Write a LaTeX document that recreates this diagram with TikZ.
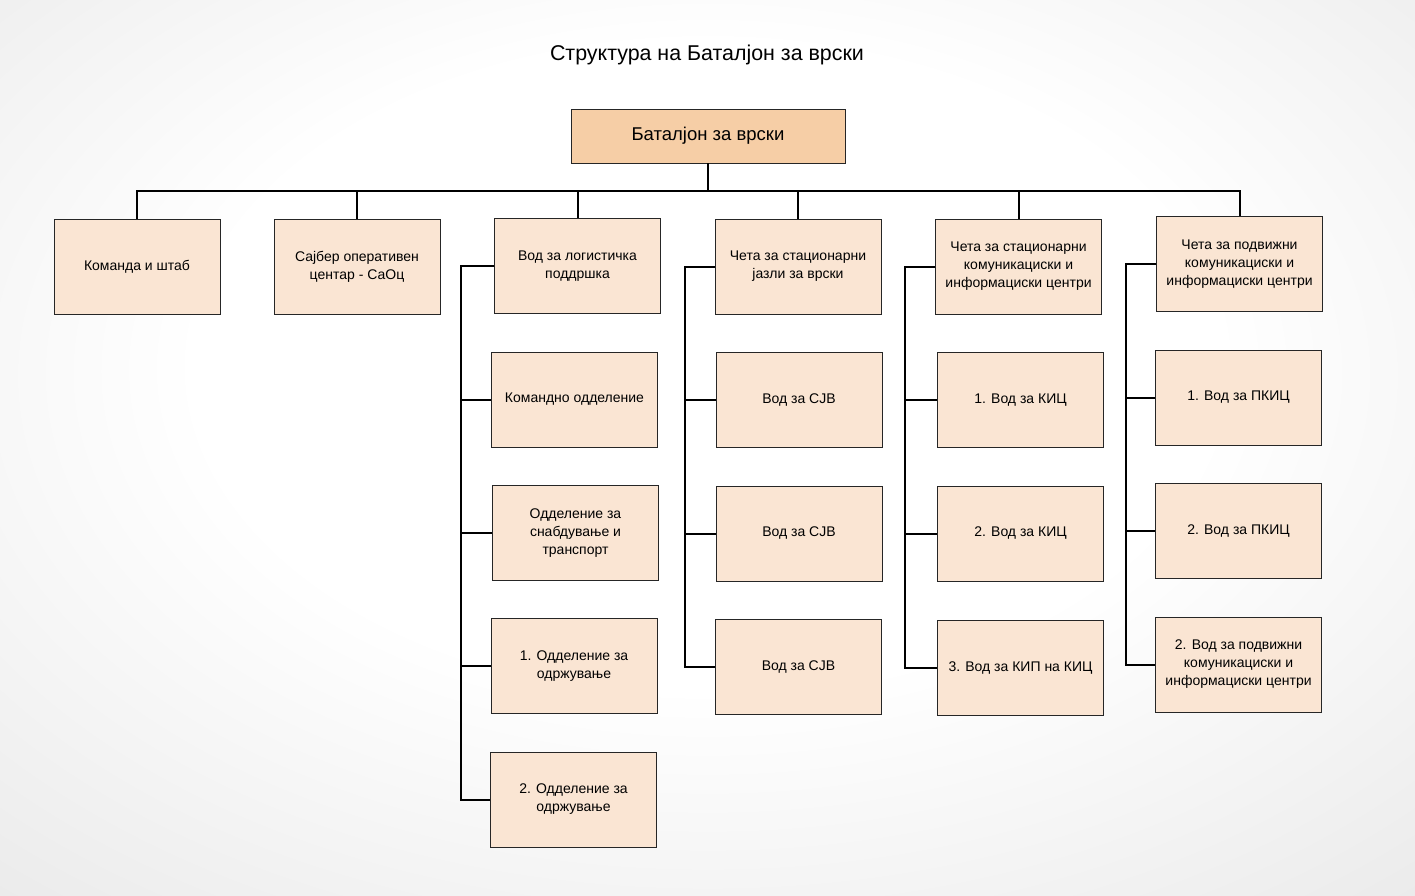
\documentclass[tikz,border=0pt]{standalone}
\usepackage{fontspec}
\setmainfont{Liberation Sans}
\usetikzlibrary{calc}

\definecolor{rootfill}{RGB}{246,206,166}
\definecolor{unitfill}{RGB}{250,229,211}
\pgfdeclareradialshading{pagebg}{\pgfpoint{0bp}{6bp}}{color(0bp)=(white);color(18bp)=(white);color(58bp)=(black!16);color(75bp)=(black!20)}
\tikzset{
  unit/.style={draw=black!85,fill=unitfill,minimum width=166,minimum height=95,inner sep=0,align=center,font=\fontsize{14}{18}\selectfont},
  root/.style={unit,fill=rootfill,minimum width=274,minimum height=54,font=\fontsize{18.5}{22}\selectfont},
  conn/.style={line width=2pt,black},
}

\begin{document}
\begin{tikzpicture}[x=1pt,y=-1pt]
\useasboundingbox (0,0) rectangle (1415,896);
\shade[shading=pagebg] (0,0) rectangle (1415,896);
\node[font=\fontsize{21.4}{25}\selectfont] (title) at (707,55) {Структура на Баталјон за врски};
\node[root] (bat) at (708,136) {Баталјон за врски};
% first level
\node[unit] (kom) at (137,266.5) {Команда и штаб};
\node[unit] (saoc) at (357,266.5) {Сајбер оперативен\\центар - СаОц};
\node[unit] (vlog) at (577.5,266) {Вод за логистичка\\поддршка};
\node[unit] (cjaz) at (798,266.5) {Чета за стационарни\\јазли за врски};
\node[unit] (cskic) at (1018.5,266.5) {Чета за стационарни\\комуникациски и\\информациски центри};
\node[unit] (cpkic) at (1239.5,264) {Чета за подвижни\\комуникациски и\\информациски центри};
% logistics platoon
\node[unit] (odkom) at (574.5,399.5) {Командно одделение};
\node[unit] (odsnab) at (575.5,533) {Одделение за\\снабдување и\\транспорт};
\node[unit] (odr1) at (574,666) {1. Одделение за\\одржување};
\node[unit] (odr2) at (573.5,799.5) {2. Одделение за\\одржување};
% stationary nodes company
\node[unit] (sjv1) at (799,400) {Вод за СЈВ};
\node[unit] (sjv2) at (799,533.5) {Вод за СЈВ};
\node[unit] (sjv3) at (798.5,666.5) {Вод за СЈВ};
% stationary centres company
\node[unit] (kic1) at (1020.5,400) {1. Вод за КИЦ};
\node[unit] (kic2) at (1020.5,533.5) {2. Вод за КИЦ};
\node[unit] (kic3) at (1020.5,667.5) {3. Вод за КИП на КИЦ};
% mobile centres company
\node[unit] (pkic1) at (1238.5,397.5) {1. Вод за ПКИЦ};
\node[unit] (pkic2) at (1238.5,531) {2. Вод за ПКИЦ};
\node[unit] (pkic3) at (1238.5,664.5) {2. Вод за подвижни\\комуникациски и\\информациски центри};
% connectors
\coordinate (bus) at (0,191);
\draw[conn] (bat.south) -- (bat.south |- bus);
\draw[conn] (kom.north) |- (cpkic.north |- bus) -- (cpkic.north);
\foreach \n in {saoc,vlog,cjaz,cskic}{\draw[conn] (\n.north) -- (\n.north |- bus);}
\coordinate (t3) at (461,0);
\coordinate (t4) at (685,0);
\coordinate (t5) at (905,0);
\coordinate (t6) at (1126,0);
\foreach \c in {odkom,odsnab,odr1,odr2}{\draw[conn] (vlog.west) -- (vlog.west -| t3) |- (\c.west);}
\foreach \c in {sjv1,sjv2,sjv3}{\draw[conn] (cjaz.west) -- (cjaz.west -| t4) |- (\c.west);}
\foreach \c in {kic1,kic2,kic3}{\draw[conn] (cskic.west) -- (cskic.west -| t5) |- (\c.west);}
\foreach \c in {pkic1,pkic2,pkic3}{\draw[conn] (cpkic.west) -- (cpkic.west -| t6) |- (\c.west);}
\end{tikzpicture}
\end{document}
